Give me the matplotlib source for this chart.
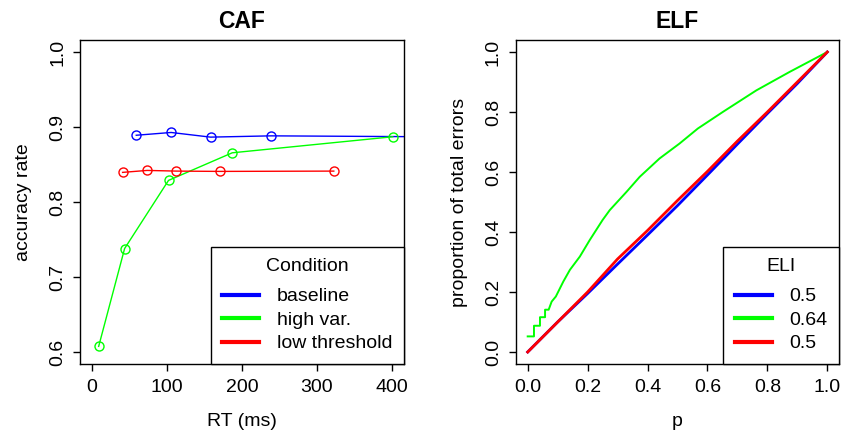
import matplotlib
matplotlib.use("Agg")
import matplotlib.pyplot as plt

plt.rcParams['font.family'] = ['Liberation Sans', 'DejaVu Sans']

# CAF data (RT in ms, accuracy rate)
caf_labels = ["baseline", "high var.", "low threshold"]
caf_colors = ["#0000FF", "#00FF00", "#FF0000"]
baseline_rt = [59, 105.5, 158, 239, 480]
baseline_acc = [0.889, 0.8927, 0.8865, 0.8882, 0.8868]
highvar_rt = [8.9, 43.5, 102, 187, 401]
highvar_acc = [0.6075, 0.738, 0.8288, 0.8656, 0.887]
lowthr_rt = [40.8, 73.6, 112.6, 170.3, 322.4]
lowthr_acc = [0.8395, 0.8421, 0.8412, 0.8408, 0.8412]

# ELF data (p, proportion of total errors)
eli_labels = ["0.5", "0.64", "0.5"]
blue_p = [0, 0.1, 0.2, 0.3, 0.4, 0.5, 0.6, 0.7, 0.8, 0.9, 1.0]
blue_y = [0, 0.1, 0.195, 0.293, 0.39, 0.488, 0.59, 0.693, 0.795, 0.895, 1.0]
green_p = [0, 0.021, 0.021, 0.041, 0.041, 0.058, 0.058, 0.07, 0.08, 0.094, 0.105,
           0.119, 0.141, 0.174, 0.207, 0.25, 0.274, 0.33, 0.374, 0.44, 0.507,
           0.568, 0.651, 0.763, 0.873, 1.0]
green_y = [0.052, 0.052, 0.0875, 0.0875, 0.116, 0.116, 0.141, 0.141, 0.168, 0.185, 0.207,
           0.235, 0.274, 0.318, 0.373, 0.44, 0.473, 0.534, 0.584, 0.645, 0.695,
           0.745, 0.8, 0.872, 0.933, 1.0]
red_p = [0, 0.1, 0.2, 0.3, 0.4, 0.5, 0.6, 0.7, 0.8, 0.9, 1.0]
red_y = [0, 0.1, 0.2, 0.31, 0.405, 0.505, 0.602, 0.703, 0.8, 0.9, 1.0]

FS = 14

fig = plt.figure(figsize=(8.43, 4.33), dpi=100)
ax1 = fig.add_axes([80 / 843, 69 / 433, 324 / 843, 324 / 433])
ax2 = fig.add_axes([515.7 / 843, 69 / 433, 323.6 / 843, 324 / 433])


def style_axes(ax):
    for s in ax.spines.values():
        s.set_linewidth(1.0)
        s.set_color("black")
    ax.tick_params(axis="both", direction="out", length=5, width=1.0,
                   labelsize=FS, colors="black")
    ax.tick_params(axis="x", pad=6)
    ax.tick_params(axis="y", pad=5)
    plt.setp(ax.get_yticklabels(), rotation=90, va="center")


def r_legend(ax, handles, labels, title):
    leg = ax.legend(handles, labels, title=title, loc="lower right",
                    fontsize=FS, title_fontsize=FS, frameon=True, fancybox=False,
                    edgecolor="black", framealpha=1, borderaxespad=0,
                    handlelength=1.9, handletextpad=0.9, labelspacing=0.3,
                    borderpad=0.6, alignment="center")
    leg.get_frame().set_linewidth(1.0)
    # extra gap between title and entries, like R's legend
    leg._legend_box.sep = 9
    return leg


# ---- CAF ----
series = [(baseline_rt, baseline_acc), (highvar_rt, highvar_acc), (lowthr_rt, lowthr_acc)]
handles = []
for (x, y), c in zip(series, caf_colors):
    ax1.plot(x, y, color=c, lw=1.0, marker="o", markersize=6.5,
             markerfacecolor="none", markeredgecolor=c, markeredgewidth=1.0)
    h, = ax1.plot([], [], color=c, lw=3)
    handles.append(h)
ax1.set_xlim(-16, 416)
ax1.set_ylim(0.584, 1.016)
ax1.set_xticks([0, 100, 200, 300, 400])
ax1.set_yticks([0.6, 0.7, 0.8, 0.9, 1.0])
ax1.set_yticklabels(["0.6", "0.7", "0.8", "0.9", "1.0"])
ax1.set_xlabel("RT (ms)", fontsize=FS, labelpad=12)
ax1.set_ylabel("accuracy rate", fontsize=FS, labelpad=12)
ax1.set_title("CAF", fontsize=16.5, fontweight="bold", pad=9)
style_axes(ax1)
r_legend(ax1, handles, caf_labels, "Condition")

# ---- ELF ----
ax2.plot(blue_p, blue_y, color="#0000FF", lw=2.0)
ax2.plot(green_p, green_y, color="#00FF00", lw=1.4)
ax2.plot(red_p, red_y, color="#FF0000", lw=2.0)
handles2 = [ax2.plot([], [], color=c, lw=3)[0] for c in caf_colors]
ax2.set_xlim(-0.04, 1.04)
ax2.set_ylim(-0.04, 1.04)
ax2.set_xticks([0, 0.2, 0.4, 0.6, 0.8, 1.0])
ax2.set_xticklabels(["0.0", "0.2", "0.4", "0.6", "0.8", "1.0"])
ax2.set_yticks([0, 0.2, 0.4, 0.6, 0.8, 1.0])
ax2.set_yticklabels(["0.0", "0.2", "0.4", "0.6", "0.8", "1.0"])
ax2.set_xlabel("p", fontsize=FS, labelpad=12)
ax2.set_ylabel("proportion of total errors", fontsize=FS, labelpad=12)
ax2.set_title("ELF", fontsize=16.5, fontweight="bold", pad=9)
style_axes(ax2)
r_legend(ax2, handles2, eli_labels, "ELI")

fig.savefig("out.png", dpi=100)
